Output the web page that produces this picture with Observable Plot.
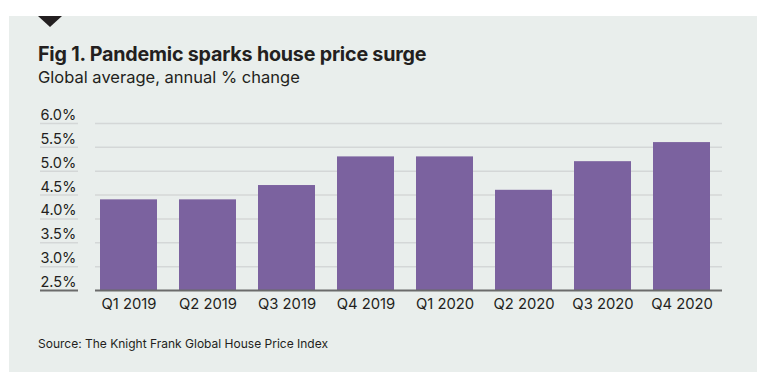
<!DOCTYPE html>
<html>
<head>
<meta charset="utf-8">
<script src="https://cdn.jsdelivr.net/npm/d3@7"></script>
<script src="https://cdn.jsdelivr.net/npm/@observablehq/plot@0.6"></script>
<style>
  html, body { margin: 0; padding: 0; background: #ffffff; }
  body { width: 771px; height: 387px; position: relative; overflow: hidden; font-family: Inter, "Liberation Sans", sans-serif; color: #231f20; }
  #panel { position: absolute; left: 9px; top: 16px; width: 748px; height: 356px; background: #e9eeec; }
  #tri { position: absolute; left: 29px; top: 0; width: 0; height: 0;
         border-left: 12px solid transparent; border-right: 12px solid transparent; border-top: 11px solid #231f20; }
  #title { position: absolute; left: 29px; top: 26px; font-size: 19.7px; font-weight: 700; white-space: nowrap; letter-spacing: -0.2px; }
  #subtitle { position: absolute; left: 29px; top: 51px; font-size: 16.5px; font-weight: 400; white-space: nowrap; }
  #chart { position: absolute; left: 0; top: 84px; }
  #source { position: absolute; left: 29px; top: 320px; font-size: 12px; white-space: nowrap; }
</style>
</head>
<body>
<div id="panel">
  <div id="tri"></div>
  <div id="title">Fig 1. Pandemic sparks house price surge</div>
  <div id="subtitle">Global average, annual % change</div>
  <div id="chart"></div>
  <div id="source">Source: The Knight Frank Global House Price Index</div>
</div>
<script>
const quarters = ["Q1 2019", "Q2 2019", "Q3 2019", "Q4 2019", "Q1 2020", "Q2 2020", "Q3 2020", "Q4 2020"];
const values = [4.4, 4.4, 4.7, 5.3, 5.3, 4.6, 5.2, 5.6];
const yDomain = [2.5, 6.0];
const yTicks = [2.5, 3.0, 3.5, 4.0, 4.5, 5.0, 5.5, 6.0];

const data = quarters.map((q, i) => ({q, v: values[i]}));
const fmt = d => d.toFixed(1) + "%";

const chart = Plot.plot({
  width: 748,
  height: 222,
  marginTop: 23,
  marginBottom: 32,
  marginLeft: 86,
  marginRight: 35,
  style: {background: "transparent", fontFamily: "Inter, 'Liberation Sans', sans-serif", color: "#231f20"},
  x: {domain: quarters, paddingInner: 0.275, paddingOuter: 0.065, align: 0.28, label: null},
  y: {domain: yDomain, label: null},
  marks: [
    // gridlines in the plot area
    Plot.ruleY(yTicks.filter(d => d !== yDomain[0]), {stroke: "#d4d7d7", strokeWidth: 1.5}),
    // underlines below the tick labels
    Plot.ruleY(yTicks.filter(d => d !== yDomain[0]), {stroke: "#d4d7d7", strokeWidth: 1.5, insetLeft: -55, insetRight: 644}),
    Plot.barY(data, {x: "q", y1: yDomain[0], y2: "v", fill: "#7b629f"}),
    // baseline
    Plot.ruleY([yDomain[0]], {stroke: "#6b6b6b", strokeWidth: 2}),
    Plot.ruleY([yDomain[0]], {stroke: "#6b6b6b", strokeWidth: 2, insetLeft: -55, insetRight: 644}),
    // y tick labels
    Plot.text(yTicks, {y: d => d, text: fmt, frameAnchor: "left", textAnchor: "start", lineAnchor: "bottom", dx: -55, dy: -3.5, fontSize: 14.5, fill: "#231f20"}),
    Plot.axisX({tickSize: 0, tickPadding: 8, fontSize: 14.8, label: null, fill: "#231f20"}),
    Plot.axisY({ticks: [], label: null, tickSize: 0})
  ]
});
document.getElementById("chart").appendChild(chart);
</script>
</body>
</html>
